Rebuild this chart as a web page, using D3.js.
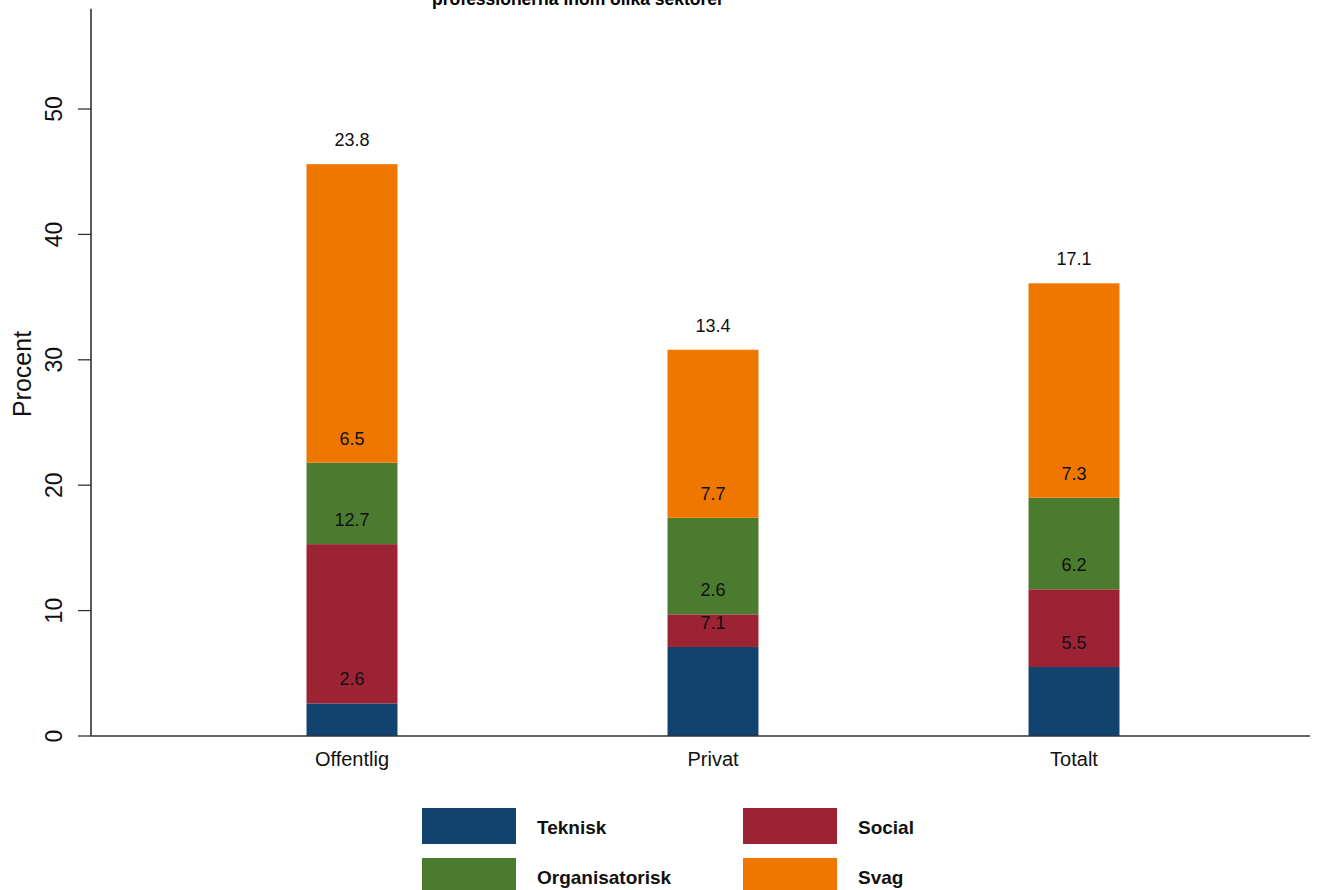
<!DOCTYPE html>
<html><head><meta charset="utf-8">
<script src="https://cdn.jsdelivr.net/npm/d3@7"></script>
<style>body{margin:0;background:#fff}svg{display:block}</style>
</head><body>
<svg id="c" width="1323" height="890"></svg>
<script>
const titleText = "professionerna inom olika sektorer";
const categories = ["Offentlig", "Privat", "Totalt"];
const seriesNames = ["Teknisk", "Social", "Organisatorisk", "Svag"];
const teknisk = [2.6, 7.1, 5.5];
const social = [12.7, 2.6, 6.2];
const organisatorisk = [6.5, 7.7, 7.3];
const svag = [23.8, 13.4, 17.1];
const yTicks = [0, 10, 20, 30, 40, 50];
const colors = ["#12426e", "#9c2334", "#4a7b2e", "#ef7700"];

const seriesVals = [teknisk, social, organisatorisk, svag];
const rows = categories.map((c, i) => {
  const r = {cat: c};
  seriesNames.forEach((s, j) => r[s] = seriesVals[j][i]);
  return r;
});
const stacked = d3.stack().keys(seriesNames)(rows);

const FONT = "Liberation Sans, Arial, sans-serif";
const svg = d3.select("#c");
const y = d3.scaleLinear().domain([0, 58]).range([736, 736 - 58 * 12.54]);
const x = d3.scaleBand().domain(categories).range([171.5, 1254.5]).paddingInner(0.748).paddingOuter(0.374);

// title (clipped at top, as in the reference)
svg.append("text").attr("x", 578).attr("y", 5).attr("text-anchor", "middle")
  .attr("font-family", FONT).attr("font-weight", "bold")
  .attr("font-size", 17.5).attr("fill", "#000").text(titleText);

// bars
const g = svg.append("g");
stacked.forEach((layer, j) => {
  g.selectAll(null).data(layer).enter().append("rect")
    .attr("x", d => x(d.data.cat)).attr("width", x.bandwidth())
    .attr("y", d => y(d[1])).attr("height", d => y(d[0]) - y(d[1]))
    .attr("fill", colors[j]);
});
// value labels above each segment top
stacked.forEach((layer, j) => {
  g.selectAll(null).data(layer).enter().append("text")
    .attr("x", d => x(d.data.cat) + x.bandwidth() / 2)
    .attr("y", d => y(d[1]) - 18)
    .attr("text-anchor", "middle")
    .attr("font-family", FONT).attr("font-size", 18)
    .attr("fill", "#111").text(d => d.data[layer.key].toFixed(1));
});

// y axis
const yAxis = d3.axisLeft(y).tickValues(yTicks).tickSize(13).tickPadding(10);
const ya = svg.append("g").attr("transform", "translate(91,0)").call(yAxis);
ya.select(".domain").attr("d", `M0,${y(58)}V${y(0)}`).attr("stroke", "#333").attr("stroke-width", 1.6);
ya.selectAll(".tick line").attr("stroke", "#333").attr("stroke-width", 1.3);
ya.selectAll(".tick text").attr("font-family", FONT).attr("font-size", 23)
  .attr("fill", "#111").attr("text-anchor", "middle").attr("transform", "rotate(-90)")
  .attr("x", function(d){ return -y(d); }).attr("y", -37).attr("dy", "0.35em");
ya.selectAll(".tick").attr("transform", null);
ya.selectAll(".tick line").attr("transform", d => `translate(0,${y(d)})`);

svg.append("text").attr("transform", "translate(31,374) rotate(-90)").attr("text-anchor", "middle")
  .attr("font-family", FONT).attr("font-size", 25).attr("fill", "#111").text("Procent");

// x axis
const xAxis = d3.axisBottom(x).tickSize(0).tickPadding(16);
const xa = svg.append("g").attr("transform", `translate(0,${y(0)})`).call(xAxis);
xa.select(".domain").attr("d", "M91,0H1310").attr("stroke", "#333").attr("stroke-width", 1.6);
xa.selectAll(".tick text").attr("font-family", FONT).attr("font-size", 20).attr("fill", "#111");

// legend
const legPos = [[422, 808], [743, 808], [422, 858], [743, 858]];
const lg = svg.append("g");
seriesNames.forEach((s, j) => {
  const [lx, ly] = legPos[j];
  lg.append("rect").attr("x", lx).attr("y", ly).attr("width", 94).attr("height", 36).attr("fill", colors[j]);
  lg.append("text").attr("x", lx + 115).attr("y", ly + 26)
    .attr("font-family", FONT).attr("font-weight", "bold").attr("font-size", 19)
    .attr("fill", "#111").text(s);
});
</script>
</body></html>
